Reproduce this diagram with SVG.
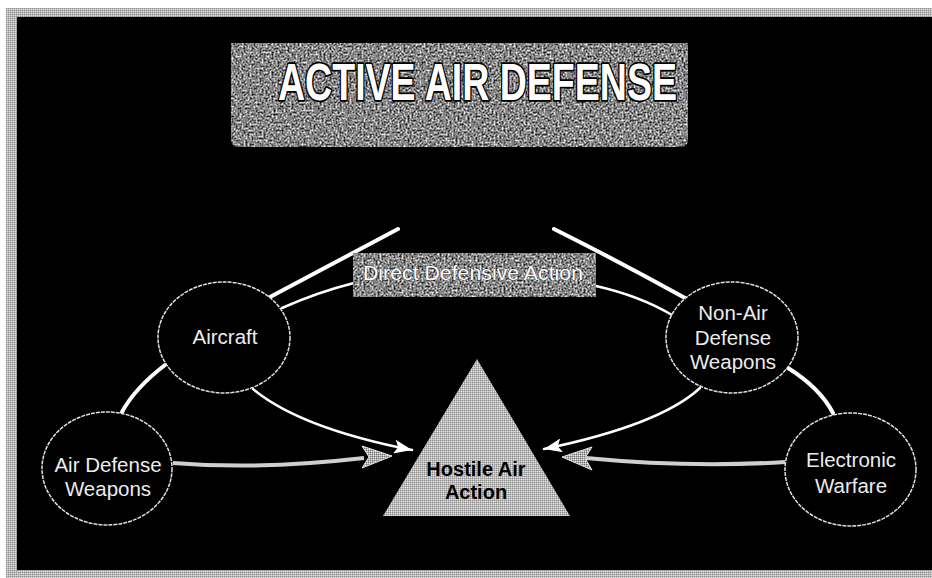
<svg xmlns="http://www.w3.org/2000/svg" width="932" height="578" viewBox="0 0 932 578">
  <defs>
    <pattern id="ditherBorder" width="2" height="2" patternUnits="userSpaceOnUse">
      <rect width="2" height="2" fill="#bcbcbc"/>
      <rect width="1" height="1" fill="#8a8a8a"/>
      <rect x="1" y="1" width="1" height="1" fill="#dedede"/>
    </pattern>
    <pattern id="ditherTri" width="2" height="2" patternUnits="userSpaceOnUse">
      <rect width="2" height="2" fill="#bdbdbd"/>
      <rect width="1" height="1" fill="#8a8a8a"/>
      <rect x="1" y="1" width="1" height="1" fill="#e0e0e0"/>
    </pattern>
    <pattern id="ditherHead" width="2" height="2" patternUnits="userSpaceOnUse">
      <rect width="2" height="2" fill="#b0b0b0"/>
      <rect width="1" height="1" fill="#707070"/>
      <rect x="1" y="1" width="1" height="1" fill="#e8e8e8"/>
    </pattern>
    <filter id="grain" x="0" y="0" width="1" height="1" color-interpolation-filters="sRGB">
      <feTurbulence type="fractalNoise" baseFrequency="0.5" numOctaves="3" seed="4" result="n"/>
      <feColorMatrix in="n" type="matrix" values="1.6 0 0 0 -0.28  1.6 0 0 0 -0.28  1.6 0 0 0 -0.28  0 0 0 0 1" result="g"/>
      <feComposite in="g" in2="SourceGraphic" operator="in"/>
    </filter>
    <marker id="whiteHead" markerWidth="20" markerHeight="14" refX="18" refY="7" orient="auto" markerUnits="userSpaceOnUse">
      <path d="M0,0 L18,7 L0,14 L4,7 Z" fill="#ffffff"/>
    </marker>
  </defs>
  <style>
    .node ellipse { fill: #000; stroke: #e0e0e0; stroke-width: 1.5; stroke-dasharray: 4 1; }
    .label { font-family: "Liberation Sans", Arial, sans-serif; font-size: 20.5px; fill: #ececec; text-anchor: middle; }
    .thick { fill: none; stroke: #ffffff; stroke-width: 4; stroke-linecap: round; }
    .thin { fill: none; stroke: #ffffff; stroke-width: 2.5; stroke-linecap: round; }
    .grayshaft { fill: none; stroke: #cfcfcf; stroke-width: 4; }
    .grayhead { fill: url(#ditherHead); stroke: #e6e6e6; stroke-width: 1; }
  </style>

  <!-- background and frame -->
  <rect x="0" y="0" width="932" height="578" fill="#ffffff"/>
  <rect x="6" y="8" width="926" height="570" fill="url(#ditherBorder)"/>
  <rect x="17" y="17" width="915" height="553" fill="#000000"/>

  <!-- title banner -->
  <g id="title">
    <path d="M231,43 H688 V139 Q688,147 680,147 H239 Q231,147 231,139 Z" fill="#888" filter="url(#grain)"/>
    <text x="278" y="100" textLength="399" lengthAdjust="spacingAndGlyphs" font-family="'Liberation Sans', Arial, sans-serif" font-weight="bold" font-size="51" fill="#ffffff" stroke="#000000" stroke-width="3.5" paint-order="stroke" stroke-linejoin="round">ACTIVE AIR DEFENSE</text>
  </g>

  <!-- connectors -->
  <g id="connectors">
    <path class="thick" d="M270,297 L398,229"/>
    <path class="thin" d="M282,308 Q318,292 354,283"/>
    <path class="thick" d="M554,229 Q620,262 685,298"/>
    <path class="thin" d="M596,286 Q640,296 672,315"/>
    <path class="thick" d="M165,365 Q135,388 122,412"/>
    <path class="thick" d="M788,368 Q820,388 833,413"/>
    <path class="thin" d="M253,389 Q300,428 412,450" marker-end="url(#whiteHead)"/>
    <path class="thin" d="M700,388 Q660,425 544,449" marker-end="url(#whiteHead)"/>
    <path class="grayshaft" d="M173,463 Q260,470 364,458"/>
    <path class="grayhead" d="M392,456 L362,446 L369,457 L362,468 Z"/>
    <path class="grayshaft" d="M785,462 Q690,468 586,458"/>
    <path class="grayhead" d="M562,457 L592,447 L585,458 L592,470 Z"/>
  </g>

  <!-- direct defensive action label -->
  <g id="direct-defensive-action">
    <rect x="353" y="253" width="243" height="44" fill="#8a8a8a" filter="url(#grain)"/>
    <text x="363" y="280" textLength="220" lengthAdjust="spacingAndGlyphs" font-family="'Liberation Sans', Arial, sans-serif" font-size="21" fill="#ffffff" stroke="#222" stroke-width="0.6" paint-order="stroke">Direct Defensive Action</text>
  </g>

  <!-- nodes -->
  <g id="aircraft" class="node">
    <ellipse cx="224" cy="337.5" rx="66" ry="55.5"/>
    <text class="label" x="225" y="344">Aircraft</text>
  </g>
  <g id="non-air-defense-weapons" class="node">
    <ellipse cx="732" cy="337.5" rx="66" ry="55.5"/>
    <text class="label" x="733" y="320">Non-Air</text>
    <text class="label" x="733" y="345">Defense</text>
    <text class="label" x="733" y="369">Weapons</text>
  </g>
  <g id="air-defense-weapons" class="node">
    <ellipse cx="107" cy="468.5" rx="65" ry="56.5"/>
    <text class="label" x="108" y="472">Air Defense</text>
    <text class="label" x="108" y="496">Weapons</text>
  </g>
  <g id="electronic-warfare" class="node">
    <ellipse cx="850.5" cy="469.5" rx="65.5" ry="56.5"/>
    <text class="label" x="851" y="467">Electronic</text>
    <text class="label" x="851" y="493">Warfare</text>
  </g>
  <g id="hostile-air-action">
    <path d="M477,359 L570,516 L383,516 Z" fill="url(#ditherTri)"/>
    <text x="476" y="476" text-anchor="middle" font-family="'Liberation Sans', Arial, sans-serif" font-weight="bold" font-size="20" fill="#000000">Hostile Air</text>
    <text x="476" y="499" text-anchor="middle" font-family="'Liberation Sans', Arial, sans-serif" font-weight="bold" font-size="20" fill="#000000">Action</text>
  </g>
</svg>
